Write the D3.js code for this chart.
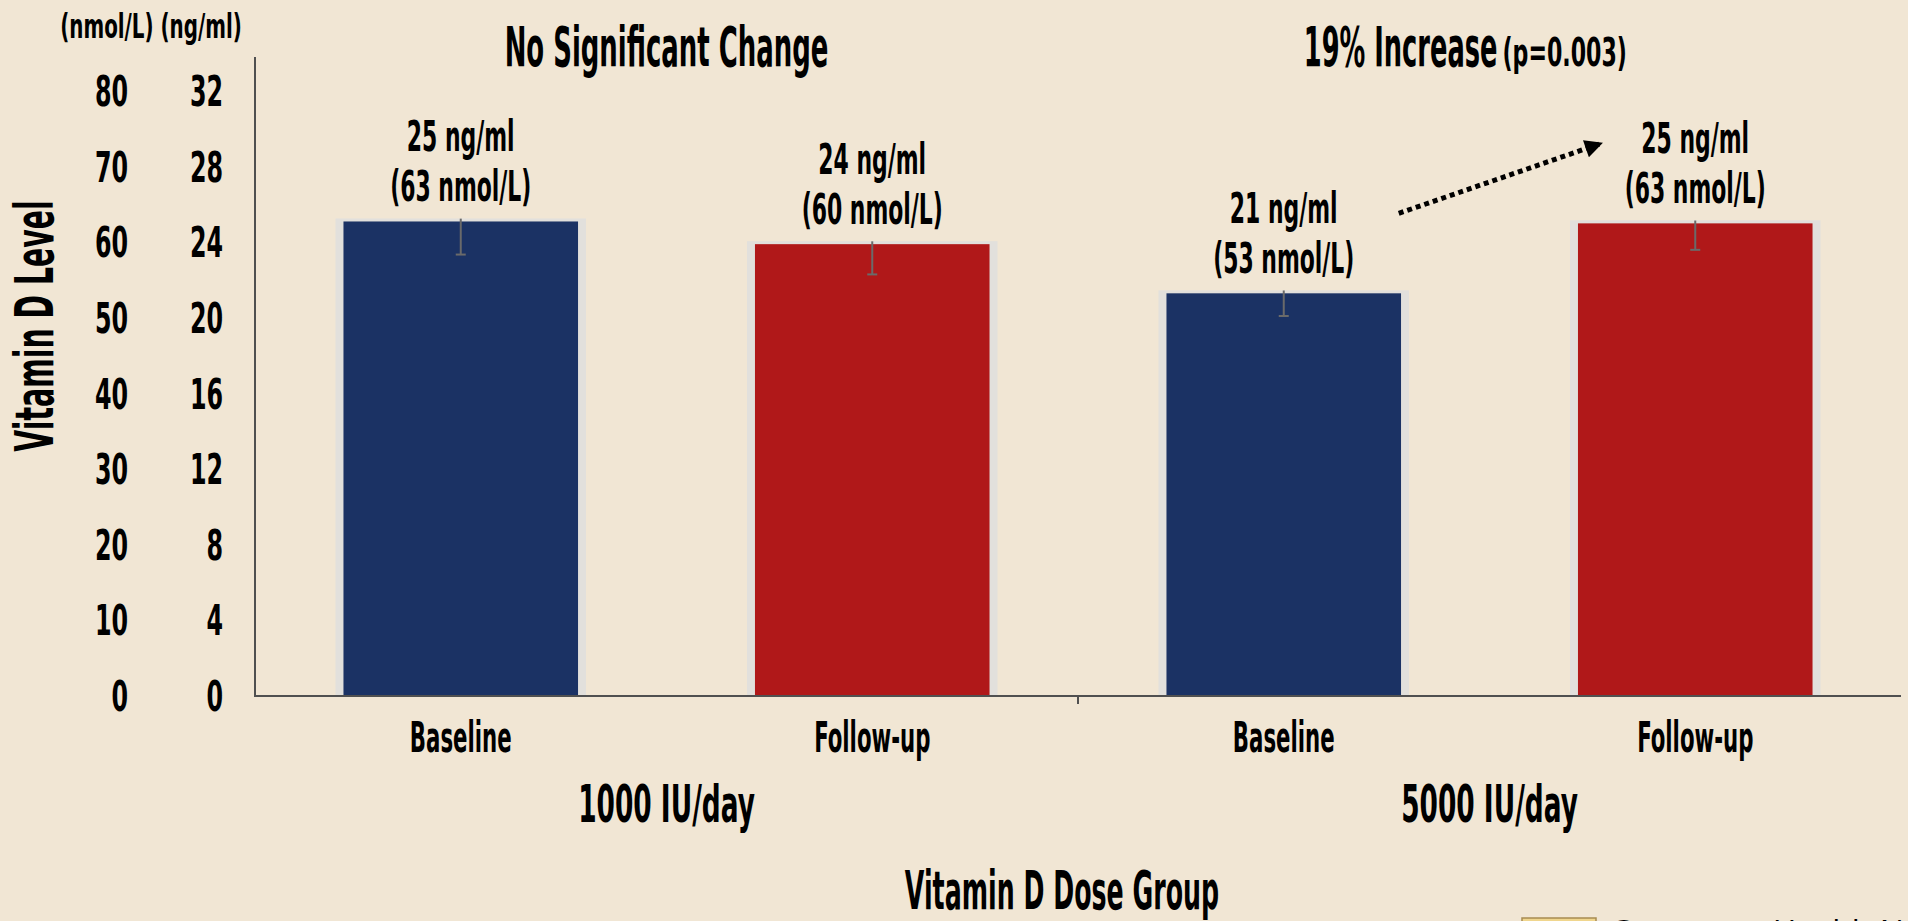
<!DOCTYPE html>
<html>
<head>
<meta charset="utf-8">
<script src="https://cdnjs.cloudflare.com/ajax/libs/d3/7.8.5/d3.min.js"></script>
<style>
    html, body { margin: 0; padding: 0; background: #f1e6d4; overflow: hidden; }
    svg { display: block; }
    text { font-family: "DejaVu Sans Condensed", "DejaVu Sans", sans-serif; font-weight: bold; fill: #000; }
</style>
</head>
<body>
<svg width="1908" height="921"></svg>
<script>
// Data
const categories = ['Baseline', 'Follow-up', 'Baseline', 'Follow-up'];
const groups = ['1000 IU/day', '5000 IU/day'];
const valuesNg = [25.1, 23.9, 21.3, 25.0];
const errorsNg = [1.75, 1.6, 1.2, 1.4];
const labelNg = [25, 24, 21, 25];
const labelNmol = [63, 60, 53, 63];
const tickNmol = [0, 10, 20, 30, 40, 50, 60, 70, 80];
const tickNg = [0, 4, 8, 12, 16, 20, 24, 28, 32];
const barColors = ['#1b3264', '#b01819', '#1b3264', '#b01819'];
const titles = ['No Significant Change', '19% Increase'];
const pNote = '(p=0.003)';

const width = 1908;
const height = 921;
const svg = d3.select('svg');

const margin = {
    top: 57,
    right: 7,
    bottom: 225,
    left: 255
}

// text helper, horizontally squeezed to get the condensed look
const label = (g, x, y, txt, size, anchor, scaleX) => g.append('text')
    .attr('transform', `translate(${x},${y}) scale(${scaleX},1)`)
    .attr('text-anchor', anchor || 'middle')
    .style('font-size', size + 'px')
    .text(txt);

const idx = d3.range(categories.length);

let xScale = d3.scaleBand()
    .domain(idx)
    .range([margin.left, width - margin.right])
    .paddingInner(0.43)
    .paddingOuter(0.215);

let xStep = xScale.step();

let yScale = d3.scaleLinear()
    .domain([0, 33.8])
    .range([height - margin.bottom, margin.top]);

let yScaleNmol = d3.scaleLinear()
    .domain([0, 33.8 * 2.5])
    .range([height - margin.bottom, margin.top]);

// tick labels (two columns)
let gTicks = svg.append('g');
tickNmol.forEach(t => label(gTicks, 128, yScaleNmol(t) + 15, t, 42, 'end', 0.63));
tickNg.forEach(t => label(gTicks, 223, yScale(t) + 15, t, 42, 'end', 0.63));

label(svg, 151, 38, '(nmol/L) (ng/ml)', 34, 'middle', 0.65);

// axis title
svg.append('text')
    .attr('transform', `translate(53,326) rotate(-90) scale(0.595,1)`)
    .attr('text-anchor', 'middle')
    .style('font-size', '53px')
    .text('Vitamin D Level');

// bars
let gBars = svg.append('g');

gBars.selectAll('rect.edge')
    .data(valuesNg)
    .enter().append('rect')
    .attr('class', 'edge')
    .attr('x', (d, i) => xScale(i) - 8)
    .attr('y', d => yScale(d) - 3)
    .attr('width', xScale.bandwidth() + 16)
    .attr('height', d => yScale(0) - yScale(d) + 3)
    .attr('fill', '#e2e0dc');

gBars.selectAll('rect.bar')
    .data(valuesNg)
    .enter().append('rect')
    .attr('class', 'bar')
    .attr('x', (d, i) => xScale(i))
    .attr('y', d => yScale(d))
    .attr('width', xScale.bandwidth())
    .attr('height', d => yScale(0) - yScale(d))
    .attr('fill', (d, i) => barColors[i]);

// error bars
let gErr = svg.append('g')
    .attr('stroke', '#6a6a6a')
    .attr('stroke-width', 2);

valuesNg.forEach((v, i) => {
    let cx = xScale(i) + xScale.bandwidth() / 2;
    gErr.append('line')
        .attr('x1', cx).attr('x2', cx)
        .attr('y1', yScale(v + 0.15))
        .attr('y2', yScale(v - errorsNg[i]));
    gErr.append('line')
        .attr('x1', cx - 5).attr('x2', cx + 5)
        .attr('y1', yScale(v - errorsNg[i]))
        .attr('y2', yScale(v - errorsNg[i]));
});

// axes lines
svg.append('line')
    .attr('x1', margin.left).attr('x2', margin.left)
    .attr('y1', margin.top).attr('y2', yScale(0) + 1)
    .attr('stroke', '#505050').attr('stroke-width', 2);

svg.append('line')
    .attr('x1', margin.left - 1).attr('x2', width - margin.right)
    .attr('y1', yScale(0)).attr('y2', yScale(0))
    .attr('stroke', '#505050').attr('stroke-width', 2);

svg.append('line')
    .attr('x1', margin.left + 2 * xStep).attr('x2', margin.left + 2 * xStep)
    .attr('y1', yScale(0)).attr('y2', yScale(0) + 8)
    .attr('stroke', '#505050').attr('stroke-width', 2);

// value labels
let gLab = svg.append('g');
valuesNg.forEach((v, i) => {
    let cx = xScale(i) + xScale.bandwidth() / 2;
    label(gLab, cx, yScale(v) - 70, `${labelNg[i]} ng/ml`, 42, 'middle', 0.58);
    label(gLab, cx, yScale(v) - 20, `(${labelNmol[i]} nmol/L)`, 42, 'middle', 0.58);
});

// category labels
categories.forEach((c, i) => {
    let cx = xScale(i) + xScale.bandwidth() / 2;
    label(svg, cx, 752, c, 43, 'middle', 0.55);
});

// group labels
groups.forEach((g, i) => {
    let cx = margin.left + xStep * (2 * i + 1);
    label(svg, cx, 822, g, 52, 'middle', 0.565);
});

label(svg, 1062, 909, 'Vitamin D Dose Group', 53, 'middle', 0.53);

// titles
label(svg, margin.left + xStep, 66, titles[0], 56, 'middle', 0.515);
let g2 = margin.left + xStep * 3;
label(svg, g2 + 8, 66, titles[1], 56, 'end', 0.51);
label(svg, g2 + 13, 66, pNote, 39, 'start', 0.63);

// dotted arrow from 5000 baseline label to follow-up label
svg.append('defs').append('marker')
    .attr('id', 'arrow')
    .attr('viewBox', '0 0 10 10')
    .attr('refX', 9).attr('refY', 5)
    .attr('markerWidth', 4.4).attr('markerHeight', 3.6)
    .attr('markerUnits', 'strokeWidth')
    .attr('orient', 'auto')
    .append('path')
    .attr('d', 'M0,0 L10,5 L0,10 Z')
    .attr('fill', '#000');

svg.append('line')
    .attr('x1', xScale(2) + xScale.bandwidth() / 2 + 115)
    .attr('y1', yScale(valuesNg[2]) - 80)
    .attr('x2', xScale(3) + xScale.bandwidth() / 2 - 94)
    .attr('y2', yScale(valuesNg[3]) - 80)
    .attr('stroke', '#000')
    .attr('stroke-width', 5)
    .attr('stroke-dasharray', '5,4')
    .attr('marker-end', 'url(#arrow)');

// logo peeking at bottom right
svg.append('rect')
    .attr('x', 1522).attr('y', 918)
    .attr('width', 74).attr('height', 20)
    .attr('fill', '#f0d68e')
    .attr('stroke', '#a88c52').attr('stroke-width', 1.5);

svg.append('text')
    .attr('x', 1610).attr('y', 944)
    .style('font-family', '"Open Sans", "DejaVu Sans", sans-serif')
    .style('font-weight', 'normal')
    .style('font-size', '32px')
    .attr('fill', '#222')
    .text('GrassrootsHealth Nutrient Research Institute');
</script>
</body>
</html>
